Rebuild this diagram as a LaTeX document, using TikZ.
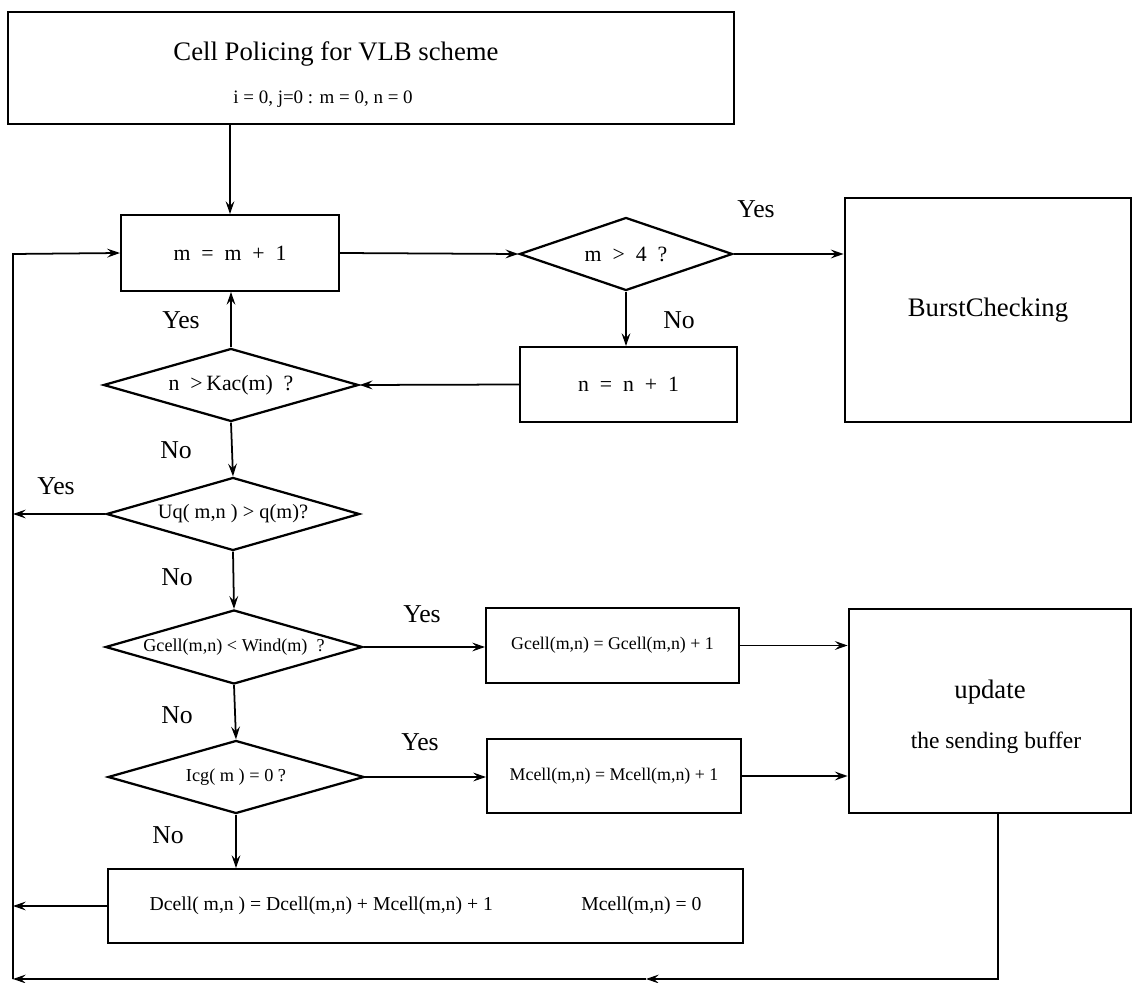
\documentclass[tikz,border=0pt]{standalone}
\usepackage{fontspec}
\setmainfont{Liberation Serif}
\usepackage{tikz}
\usetikzlibrary{arrows.meta, positioning, shapes.geometric, fit}

\begin{document}
\begin{tikzpicture}[x=0.025cm, y=-0.025cm,
		box/.style={draw, line width=1.4pt, inner sep=0pt},
		bigbox/.style={draw, line width=1.9pt, inner sep=0pt},
		dec/.style={draw, diamond, line width=1.6pt, inner sep=0pt, minimum height=1.825cm},
		arr/.style={line width=1.25pt, -{Stealth[length=3.2mm, width=2.2mm, inset=1.2mm]}},
		yn/.style={font=\fontsize{18.3}{20}\selectfont}]
				\useasboundingbox (0,0) rectangle (1133,983);
				% Header
				\node[box, fit={(8,12) (734,124)}] (title) {};
				\node[font=\fontsize{19}{22}\selectfont] (ttl) at (336,54) {Cell Policing for VLB scheme};
				\node[font=\fontsize{13.5}{16}\selectfont] (init) at (323,99) {i = 0, j=0 : m = 0, n = 0};
				% Counter loop
				\node[box, minimum width=5.45cm, minimum height=1.9cm, font=\fontsize{15.5}{18}\selectfont] (mm) at (230,253) {m\enspace=\enspace m\enspace+\enspace 1};
				\node[dec, minimum width=5.325cm, shape aspect=2.92, font=\fontsize{15.5}{18}\selectfont] (mfour) at (626,254) {m\enspace>\enspace 4\enspace ?};
				\node[bigbox, minimum width=7.15cm, minimum height=5.6cm, font=\fontsize{19}{22}\selectfont] (burst) at (988,310) {BurstChecking};
				\node[box, minimum width=5.425cm, minimum height=1.875cm, font=\fontsize{15.5}{18}\selectfont] (ninc) at (628.5,384.5) {n\enspace=\enspace n\enspace+\enspace 1};
				\node[dec, minimum width=6.375cm, shape aspect=3.5, font=\fontsize{15.5}{18}\selectfont] (kac) at (231,385) {n\enspace>\,Kac(m)\enspace?};
				% Tests
				\node[dec, minimum width=6.325cm, shape aspect=3.47, font=\fontsize{14.5}{17}\selectfont] (uq) at (233,514) {Uq( m,n ) > q(m)?};
				\node[dec, minimum width=6.425cm, minimum height=1.85cm, shape aspect=3.47, font=\fontsize{12.9}{15}\selectfont] (gc) at (234,647) {Gcell(m,n) < Wind(m)\enspace ?};
				\node[dec, minimum width=6.4cm, shape aspect=3.5, font=\fontsize{13}{15}\selectfont] (icg) at (236,777) {Icg( m ) = 0 ?};
				\node[box, minimum width=6.325cm, minimum height=1.875cm, font=\fontsize{12.7}{15}\selectfont] (gcinc) at (612.5,645.5) {Gcell(m,n) = Gcell(m,n) + 1};
				\node[box, minimum width=6.35cm, minimum height=1.85cm, font=\fontsize{12.7}{15}\selectfont] (mcinc) at (614,776) {Mcell(m,n) = Mcell(m,n) + 1};
				\node[box, minimum width=15.875cm, minimum height=1.85cm, font=\fontsize{14}{16}\selectfont] (dcell) at (425.5,906) {Dcell( m,n ) = Dcell(m,n) + Mcell(m,n) + 1\hspace{63pt}Mcell(m,n) = 0};
				% Buffer
				\node[bigbox, fit={(849,609) (1131,813)}] (update) {};
				\node[font=\fontsize{19}{22}\selectfont] (upd) at (990,692) {update};
				\node[font=\fontsize{16.7}{20}\selectfont] (buf) at (996,743) {the sending buffer};
				% Yes / No
				\node[yn] (yMfour) at (756,209) {Yes};
				\node[yn] (nMfour) at (679,320) {No};
				\node[yn] (yKac) at (181,320) {Yes};
				\node[yn] (nKac) at (176,450) {No};
				\node[yn] (yUq) at (56,486) {Yes};
				\node[yn] (nUq) at (177,577) {No};
				\node[yn] (yGc) at (422,614) {Yes};
				\node[yn] (nGc) at (177,715) {No};
				\node[yn] (yIcg) at (420,742) {Yes};
				\node[yn] (nIcg) at (168,835) {No};
				% Return path
				\coordinate (loopT) at (13,254);
				\coordinate (loopB) at (13,979);
				\coordinate (loopM) at (646,979);
				% Connectors
				\draw[arr] (title.south -| mm.north) -- (mm.north);
				\draw[arr] (mm.east) -- (mfour.west);
				\draw[arr] (mfour.east) -- (mfour.east -| burst.west);
				\draw[arr] (mfour.south) -- (mfour.south |- ninc.north);
				\draw[arr] (ninc.west) -- (kac.east);
				\draw[arr] (kac.north) -- (kac.north |- mm.south);
				\draw[arr] (kac.south) -- (uq.north);
				\draw[arr] (uq.west) -- (uq.west -| loopT);
				\draw[arr] (uq.south) -- (gc.north);
				\draw[arr] (gc.east) -- (gc.east -| gcinc.west);
				\draw[arr] (gcinc.east) -- (gcinc.east -| update.west);
				\draw[arr] (gc.south) -- (icg.north);
				\draw[arr] (icg.east) -- (icg.east -| mcinc.west);
				\draw[arr] (mcinc.east) -- (mcinc.east -| update.west);
				\draw[arr] (icg.south) -- (icg.south |- dcell.north);
				\draw[arr] (dcell.west) -- (dcell.west -| loopT);
				\draw[arr] ([xshift=0.2cm]update.south) |- (loopM);
				\draw[arr] (loopM) -- (loopB);
				\draw[arr] (loopB) -- (loopT) -- (mm.west);
			\end{tikzpicture}
\end{document}
